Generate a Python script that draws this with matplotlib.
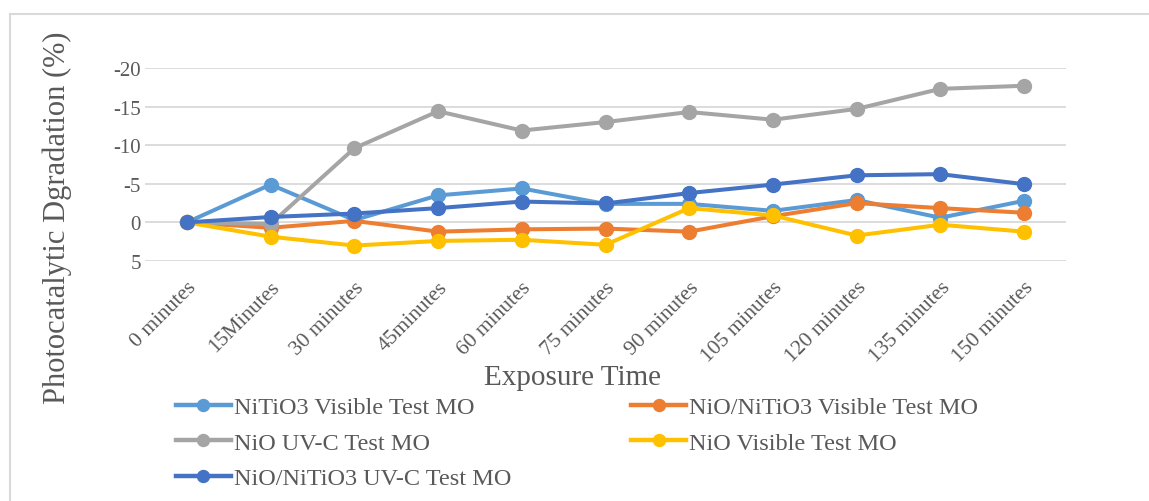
import matplotlib
matplotlib.use("Agg")
import matplotlib.pyplot as plt
from matplotlib.lines import Line2D

# Exposure times (category labels)
times = ["0 minutes", "15Minutes", "30 minutes", "45minutes", "60 minutes",
         "75 minutes", "90 minutes", "105 minutes", "120 minutes",
         "135 minutes", "150 minutes"]

# Photocatalytic degradation (%) for each test
nitio3_vis = [0, -4.9, -0.3, -3.5, -4.4, -2.4, -2.4, -1.5, -2.9, -0.6, -2.8]
nio_nitio3_vis = [0, 0.7, -0.2, 1.2, 0.9, 0.8, 1.2, -0.8, -2.5, -1.85, -1.25]
nio_uvc = [0, 0.2, -9.6, -14.4, -11.9, -13.0, -14.3, -13.3, -14.7, -17.3, -17.7]
nio_vis = [0, 1.85, 3.0, 2.4, 2.25, 2.9, -1.85, -0.9, 1.7, 0.3, 1.2]
nio_nitio3_uvc = [0, -0.7, -1.15, -1.85, -2.7, -2.45, -3.8, -4.9, -6.1, -6.25, -4.95]

series_names = ["NiTiO3 Visible Test MO", "NiO/NiTiO3 Visible Test MO",
                "NiO UV-C Test MO", "NiO Visible Test MO",
                "NiO/NiTiO3 UV-C Test MO"]
series_values = [nitio3_vis, nio_nitio3_vis, nio_uvc, nio_vis, nio_nitio3_uvc]
colors = ["#5B9BD5", "#ED7D31", "#A5A5A5", "#FFC000", "#4472C4"]

serif = "Liberation Serif"
text_grey = "#595959"

fig = plt.figure(figsize=(11.49, 5.02), dpi=100)
ax = fig.add_axes([145 / 1149, 1 - 262 / 502, 921 / 1149, 193 / 502])

x = list(range(len(times)))
for name, vals, col in zip(series_names, series_values, colors):
    ax.plot(x, vals, color=col, lw=2.9, marker="o", ms=10,
            solid_joinstyle="round", label=name, zorder=3)

ax.set_xlim(-0.5, len(times) - 0.5)
ax.set_ylim(5, -20)
ax.set_yticks([-20, -15, -10, -5, 0, 5])
ax.set_yticklabels(["-20", "-15", "-10", "-5", "0", "5"])
ax.set_xticks(x)
ax.set_xticklabels(times, rotation=45, ha="right", rotation_mode="anchor")

ax.grid(axis="y", color="#D9D9D9", lw=1.3, zorder=0)
for s in ax.spines.values():
    s.set_visible(False)
ax.tick_params(length=0, colors=text_grey)
ax.tick_params(axis="y", labelsize=15, pad=3)
ax.tick_params(axis="x", labelsize=15.5, pad=12)
for lab in ax.get_xticklabels() + ax.get_yticklabels():
    lab.set_fontfamily(serif)

fig.text(57 / 1149, 1 - 218 / 502, "Photocatalytic Dgradation (%)",
         rotation=90, ha="center", va="center", fontsize=22,
         family=serif, color=text_grey)
fig.text(573 / 1149, 1 - 378 / 502, "Exposure Time", ha="center",
         va="center", fontsize=21, family=serif, color=text_grey)

# Legend filled row-wise in two columns
order = [0, 2, 4, 1, 3]
leg_handles = [Line2D([], [], color=colors[i], lw=3.2, marker="o", ms=8.6)
               for i in order]
leg = fig.legend(leg_handles, [series_names[i] for i in order], ncol=2,
                 loc="upper left", bbox_to_anchor=(176 / 1149, 1 - 397 / 502),
                 frameon=False, prop={"family": serif, "size": 17.5},
                 handlelength=2.25, handletextpad=0.12, columnspacing=4.95,
                 labelspacing=0.56, borderpad=0, borderaxespad=0)
for t in leg.get_texts():
    t.set_color(text_grey)

# Chart border (left and top edges)
fig.add_artist(Line2D([10 / 1149, 10 / 1149], [0, 1 - 15 / 502],
                      transform=fig.transFigure, color="#D9D9D9", lw=1.5))
fig.add_artist(Line2D([10 / 1149, 1], [1 - 15 / 502, 1 - 15 / 502],
                      transform=fig.transFigure, color="#D9D9D9", lw=1.5))

fig.savefig("out.png", dpi=100)
